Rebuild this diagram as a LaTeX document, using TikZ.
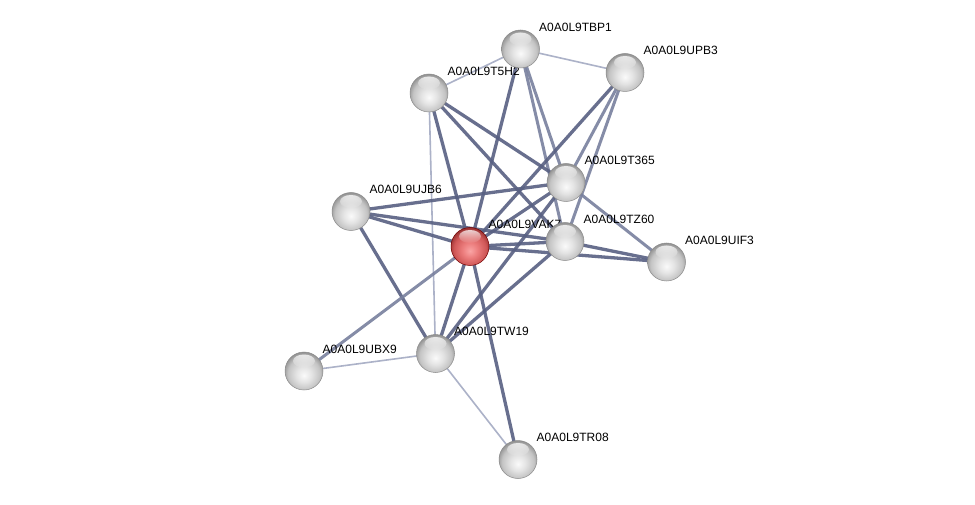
\documentclass[tikz,border=0pt]{standalone}
\usepackage{fontspec}
\setmainfont{Liberation Sans}
\usetikzlibrary{calc,fadings}
\definecolor{edgedark}{RGB}{88,96,130}
\definecolor{edgemid}{RGB}{120,128,158}
\definecolor{edgelight}{RGB}{172,178,200}
\definecolor{sgA}{RGB}{250,250,250}
\definecolor{sgB}{RGB}{228,228,228}
\definecolor{sgC}{RGB}{196,196,196}
\definecolor{sgD}{RGB}{135,135,135}
\definecolor{srA}{RGB}{250,165,165}
\definecolor{srB}{RGB}{236,125,125}
\definecolor{srC}{RGB}{208,88,88}
\definecolor{srD}{RGB}{140,40,40}
\pgfdeclareradialshading{graysph}{\pgfpoint{0bp}{-6bp}}{color(0bp)=(sgA); color(10bp)=(sgB); color(21bp)=(sgC); color(29bp)=(sgD); color(50bp)=(sgD)}
\pgfdeclareradialshading{redsph}{\pgfpoint{0bp}{-6bp}}{color(0bp)=(srA); color(10bp)=(srB); color(21bp)=(srC); color(29bp)=(srD); color(50bp)=(srD)}
\pgfdeclarelayer{bg}
\pgfdeclarelayer{mid}
\pgfsetlayers{bg,mid,main}
\tikzset{
  gnode/.style={circle, minimum size=38pt, inner sep=0pt, shading=graysph, draw=black!45, line width=0.5pt},
  rnode/.style={circle, minimum size=38pt, inner sep=0pt, shading=redsph, draw=black!55!red, line width=0.5pt},
  lab/.style={anchor=west, inner sep=0pt, font=\fontsize{12}{14}\selectfont, text=black},
  edgeA/.style={draw=edgedark, line width=3.3pt, opacity=0.9},
  edgeB/.style={draw=edgemid, line width=3pt, opacity=0.9},
  edgeL/.style={draw=edgelight, line width=1.6pt},
  shine/.style={fill=white, opacity=0.75, path fading=south}
}
\begin{document}
\begin{tikzpicture}[x=1pt,y=-1pt]
\useasboundingbox (0,0) rectangle (975,505);
% nodes
\node[gnode] (tbp1) at (520.5,49) {};
\node[gnode] (upb3) at (625,72.5) {};
\node[gnode] (t5h2) at (429,93) {};
\node[gnode] (t365) at (566,182.5) {};
\node[gnode] (ujb6) at (351,211.5) {};
\node[rnode] (vak7) at (470,246.5) {};
\node[gnode] (tz60) at (565,241.5) {};
\node[gnode] (uif3) at (666.5,262) {};
\node[gnode] (tw19) at (435.5,353.5) {};
\node[gnode] (ubx9) at (304,371) {};
\node[gnode] (tr08) at (518,459.5) {};
% highlights
\foreach \n in {tbp1,upb3,t5h2,t365,ujb6,vak7,tz60,uif3,tw19,ubx9,tr08}{
  \fill[shine] ($(\n)+(0,-10)$) ellipse (11pt and 6.5pt);
}
% labels
\begin{pgfonlayer}{mid}
\node[lab] (l-tbp1) at ($(tbp1)+(18.5,-22)$) {A0A0L9TBP1};
\node[lab] (l-upb3) at ($(upb3)+(18.5,-22)$) {A0A0L9UPB3};
\node[lab] (l-t5h2) at ($(t5h2)+(18.5,-22)$) {A0A0L9T5H2};
\node[lab] (l-t365) at ($(t365)+(18.5,-22)$) {A0A0L9T365};
\node[lab] (l-ujb6) at ($(ujb6)+(18.5,-22)$) {A0A0L9UJB6};
\node[lab] (l-vak7) at ($(vak7)+(18.5,-22)$) {A0A0L9VAK7};
\node[lab] (l-tz60) at ($(tz60)+(18.5,-22)$) {A0A0L9TZ60};
\node[lab] (l-uif3) at ($(uif3)+(18.5,-22)$) {A0A0L9UIF3};
\node[lab] (l-tw19) at ($(tw19)+(18.5,-22)$) {A0A0L9TW19};
\node[lab] (l-ubx9) at ($(ubx9)+(18.5,-22)$) {A0A0L9UBX9};
\node[lab] (l-tr08) at ($(tr08)+(18.5,-22)$) {A0A0L9TR08};
\end{pgfonlayer}
% edges
\begin{pgfonlayer}{bg}
\fill[white] (0,0) rectangle (975,505);
\draw[edgeL] (tbp1.center) -- (upb3.center);
\draw[edgeL] (tbp1.center) -- (t5h2.center);
\draw[edgeL] (t5h2.center) -- (tw19.center);
\draw[edgeL] (tw19.center) -- (ubx9.center);
\draw[edgeL] (tw19.center) -- (tr08.center);
\draw[edgeA] (tbp1.center) -- (vak7.center);
\draw[edgeB] (tbp1.center) -- (t365.center);
\draw[edgeB] (tbp1.center) -- (tz60.center);
\draw[edgeA] (upb3.center) -- (vak7.center);
\draw[edgeB] (upb3.center) -- (t365.center);
\draw[edgeB] (upb3.center) -- (tz60.center);
\draw[edgeA] (t5h2.center) -- (vak7.center);
\draw[edgeA] (t5h2.center) -- (t365.center);
\draw[edgeA] (t5h2.center) -- (tz60.center);
\draw[edgeA] (ujb6.center) -- (t365.center);
\draw[edgeA] (ujb6.center) -- (vak7.center);
\draw[edgeA] (ujb6.center) -- (tz60.center);
\draw[edgeA] (ujb6.center) -- (tw19.center);
\draw[edgeA] (vak7.center) -- (t365.center);
\draw[edgeA] (vak7.center) -- (tz60.center);
\draw[edgeA] (vak7.center) -- (uif3.center);
\draw[edgeA] (vak7.center) -- (tw19.center);
\draw[edgeB] (vak7.center) -- (ubx9.center);
\draw[edgeA] (vak7.center) -- (tr08.center);
\draw[edgeB] (t365.center) -- (uif3.center);
\draw[edgeA] (t365.center) -- (tw19.center);
\draw[edgeA] (tz60.center) -- (uif3.center);
\draw[edgeA] (tz60.center) -- (tw19.center);
\end{pgfonlayer}
\end{tikzpicture}
\end{document}
